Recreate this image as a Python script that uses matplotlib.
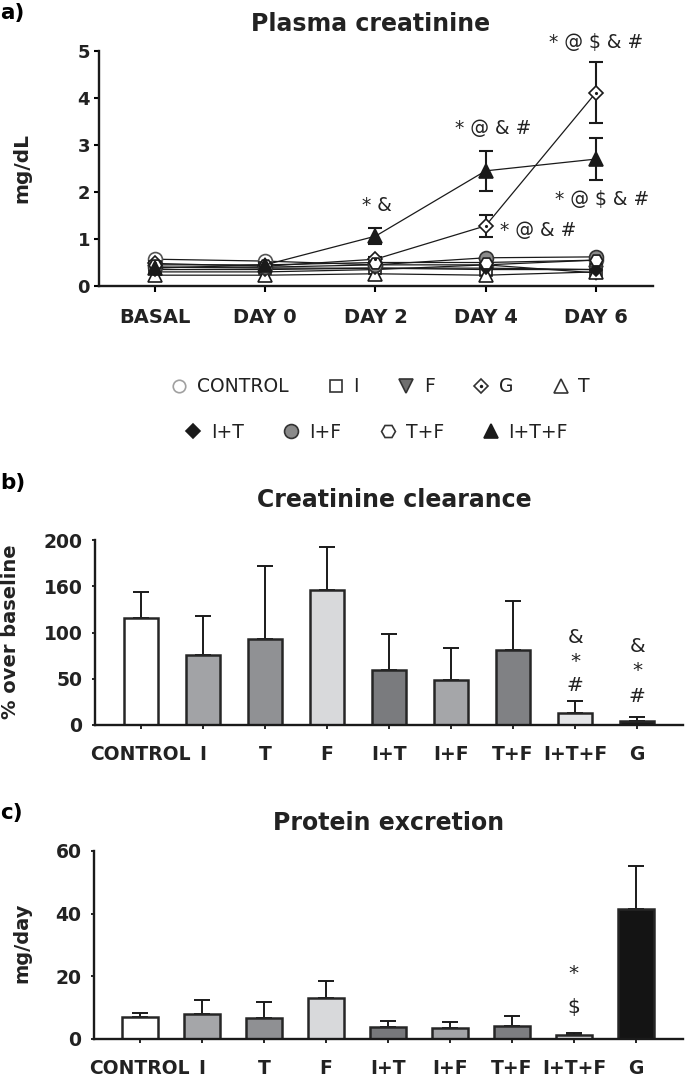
import numpy as np
import matplotlib
matplotlib.use('Agg')
import matplotlib.pyplot as plt
from matplotlib.lines import Line2D
from matplotlib.legend_handler import HandlerTuple

plt.rcParams['font.family'] = ['DejaVu Sans']

# ---- panel a data ----
days = ['BASAL', 'DAY 0', 'DAY 2', 'DAY 4', 'DAY 6']
cr_control = [0.57, 0.53, 0.45, 0.45, 0.55]
cr_i = [0.40, 0.38, 0.38, 0.35, 0.35]
cr_f = [0.30, 0.30, 0.35, 0.45, 0.28]
cr_g = [0.48, 0.42, 0.57, 1.28, 4.11]
cr_t = [0.23, 0.23, 0.26, 0.23, 0.30]
cr_it = [0.35, 0.35, 0.38, 0.38, 0.35]
cr_if = [0.40, 0.40, 0.45, 0.60, 0.62]
cr_tf = [0.45, 0.45, 0.50, 0.50, 0.55]
cr_itf = [0.38, 0.45, 1.06, 2.45, 2.70]
cr_g_err = [0.05, 0.05, 0.05, 0.24, 0.65]
cr_itf_err = [0.05, 0.05, 0.17, 0.42, 0.45]

# ---- panels b, c data ----
groups = ['CONTROL', 'I', 'T', 'F', 'I+T', 'I+F', 'T+F', 'I+T+F', 'G']
clear_mean = [116, 76, 92.6, 146, 59, 48.6, 81.4, 12.6, 4.7]
clear_sd = [28, 42, 79, 46, 39, 34.4, 52.6, 13.4, 4.3]
prot_mean = [6.9, 8.1, 6.6, 13.0, 3.8, 3.5, 4.2, 1.3, 41.5]
prot_sd = [1.4, 4.4, 5.3, 5.6, 2.1, 1.8, 3.1, 0.7, 13.7]

colors_b = ['#ffffff', '#a2a3a6', '#909194', '#d8d9db', '#7a7b7e',
            '#a5a6a9', '#808184', '#e4e5e7', '#1a1a1a']
colors_c = ['#ffffff', '#a5a6a9', '#8f9093', '#d8d9db', '#77787b',
            '#a3a4a7', '#7d7e81', '#e5e5e7', '#141414']

W, H = 685, 1076
fig = plt.figure(figsize=(W / 100, H / 100), dpi=100)
dark = '#1a1a1a'


def px_axes(left, right, top, bottom):
    return fig.add_axes([left / W, 1 - bottom / H, (right - left) / W, (bottom - top) / H])


def style(ax):
    for s in ['top', 'right']:
        ax.spines[s].set_visible(False)
    for s in ['left', 'bottom']:
        ax.spines[s].set_linewidth(1.7)
        ax.spines[s].set_color(dark)
    for lab in ax.get_xticklabels() + ax.get_yticklabels():
        lab.set_fontweight('bold')
        lab.set_color('#222222')


def put(x, y, s, **kw):
    # place text using reference pixel coordinates
    fig.text(x / W, 1 - y / H, s, ha='center', va='center', **kw)


# ================= panel a =================
ax = px_axes(99, 653, 51, 286)
x = np.arange(len(days))
series = [
    ('CONTROL', cr_control, None, dict(marker='o', mfc='white', mec='#555555', ms=10)),
    ('I', cr_i, None, dict(marker='s', mfc='white', mec=dark, ms=8.5)),
    ('F', cr_f, None, dict(marker='v', mfc='#6f6f6f', mec='#333333', ms=10)),
    ('G', cr_g, cr_g_err, dict(marker='D', mfc='white', mec=dark, ms=7.5)),
    ('T', cr_t, None, dict(marker='^', mfc='white', mec=dark, ms=10)),
    ('I+T', cr_it, None, dict(marker='D', mfc=dark, mec=dark, ms=6.5)),
    ('I+F', cr_if, None, dict(marker='o', mfc='#8a8a8a', mec='#333333', ms=10)),
    ('T+F', cr_tf, None, dict(marker='H', mfc='white', mec=dark, ms=9)),
    ('I+T+F', cr_itf, cr_itf_err, dict(marker='^', mfc=dark, mec=dark, ms=10)),
]
for name, vals, err, st in series:
    if err is not None:
        ax.errorbar(x, vals, yerr=err, fmt='none', ecolor=dark, elinewidth=1.5,
                    capsize=5, capthick=1.5, zorder=2)
    ax.plot(x, vals, color=dark, lw=0.9, mew=1.2, zorder=3, **st)
    if name == 'G':
        ax.plot(x, vals, ls='none', marker='.', color=dark, ms=2.5, zorder=4)

ax.set_xlim(-0.51, 4.52)
ax.set_ylim(0, 5)
ax.set_xticks(x)
ax.set_xticklabels(days, fontsize=14)
ax.set_yticks(range(6))
ax.tick_params(axis='y', labelsize=13, length=3.5, width=1.5, pad=3)
ax.tick_params(axis='x', length=4, width=1.5, pad=12)
style(ax)

ann = dict(ha='center', va='center', fontsize=13.5, parse_math=False, clip_on=False,
           color='#222222')
ax.text(2.01, 1.72, '* &', **ann)
ax.text(3.07, 3.36, '* @ & #', **ann)
ax.text(3.48, 1.19, '* @ & #', **ann)
ax.text(4.00, 5.19, '* @ $ & #', **ann)
ax.text(4.06, 1.85, '* @ $ & #', **ann)

fig.text(0, 1 - 13 / H, 'a)', fontsize=15.5, fontweight='bold', va='center', ha='left')
put(371, 24, 'Plasma creatinine', fontsize=17, fontweight='bold', color='#222222')
put(22, 168, 'mg/dL', fontsize=14.5, fontweight='bold', rotation=90, color='#222222')

# legend
names1 = ['CONTROL', 'I', 'F', 'G', 'T']
names2 = ['I+T', 'I+F', 'T+F', 'I+T+F']
leg_marks = {
    'CONTROL': [dict(marker='o', mfc='white', mec='#a0a0a0', ms=9)],
    'I': [dict(marker='s', mfc='white', mec='#333333', ms=9)],
    'F': [dict(marker='v', mfc='#6f6f6f', mec='#333333', ms=10)],
    'G': [dict(marker='D', mfc='white', mec='#333333', ms=7),
          dict(marker='.', mfc=dark, mec=dark, ms=2.5)],
    'T': [dict(marker='^', mfc='white', mec='#333333', ms=10)],
    'I+T': [dict(marker='D', mfc=dark, mec=dark, ms=7)],
    'I+F': [dict(marker='o', mfc='#8a8a8a', mec='#333333', ms=10)],
    'T+F': [dict(marker='H', mfc='white', mec='#333333', ms=10)],
    'I+T+F': [dict(marker='^', mfc=dark, mec=dark, ms=10)],
}


def leg_handle(name):
    parts = [Line2D([], [], ls='none', mew=1.2, **m) for m in leg_marks[name]]
    return tuple(parts) if len(parts) > 1 else parts[0]


leg_kw = dict(loc='center', frameon=False, fontsize=13.5, handlelength=1.0,
              handletextpad=0.45, columnspacing=2.0, borderpad=0,
              labelcolor='#222222',
              handler_map={tuple: HandlerTuple(ndivide=1, pad=0)})
fig.legend([leg_handle(n) for n in names1], names1, ncol=5,
           bbox_to_anchor=(380 / W, 1 - 387 / H), **leg_kw)
fig.legend([leg_handle(n) for n in names2], names2, ncol=4,
           bbox_to_anchor=(376 / W, 1 - 432 / H), **leg_kw)

# ================= panel b =================
bx = np.arange(len(groups))
ax = px_axes(95, 683, 540, 725)
ax.errorbar(bx, clear_mean, yerr=[np.zeros(len(groups)), clear_sd], fmt='none',
            ecolor=dark, elinewidth=1.4, capsize=5.5, capthick=1.4, zorder=1)
ax.bar(bx, clear_mean, width=0.56, color=colors_b, edgecolor='#262626', lw=1.8, zorder=2)
ax.set_xlim(-0.74, 8.74)
ax.set_ylim(0, 200)
ax.set_xticks(bx)
ax.set_xticklabels(groups, fontsize=13.5)
ax.set_yticks([0, 50, 100, 150, 200])
ax.set_yticklabels(['0', '50', '100', '160', '200'])
ax.tick_params(axis='y', labelsize=13.5, length=2, width=1.2, pad=7)
ax.tick_params(axis='x', length=3, width=1.2, pad=11.5)
style(ax)

bann = dict(ha='center', va='center', fontsize=14.5, parse_math=False, color='#222222')
for sym, yv in zip(['&', '*', '#'], [95, 69, 43]):
    ax.text(7, yv, sym, **bann)
for sym, yv in zip(['&', '*', '#'], [85, 59, 31]):
    ax.text(8, yv, sym, **bann)

fig.text(0, 1 - 483 / H, 'b)', fontsize=15.5, fontweight='bold', va='center', ha='left')
put(394, 500, 'Creatinine clearance', fontsize=17, fontweight='bold', color='#222222')
put(11, 632, '% over baseline', fontsize=14, fontweight='bold', rotation=90, color='#222222')

# ================= panel c =================
ax = px_axes(94, 683, 851, 1039)
ax.errorbar(bx, prot_mean, yerr=[np.zeros(len(groups)), prot_sd], fmt='none',
            ecolor=dark, elinewidth=1.4, capsize=5.5, capthick=1.4, zorder=1)
ax.bar(bx, prot_mean, width=0.58, color=colors_c, edgecolor='#262626', lw=1.8, zorder=2)
ax.set_xlim(-0.74, 8.76)
ax.set_ylim(0, 60)
ax.set_xticks(bx)
ax.set_xticklabels(groups, fontsize=13.5)
ax.set_yticks([0, 20, 40, 60])
ax.tick_params(axis='y', labelsize=13.5, length=2, width=1.2, pad=7)
ax.tick_params(axis='x', length=3, width=1.2, pad=11.5)
style(ax)
ax.text(7, 21, '*', **bann)
ax.text(7, 9.9, '$', **bann)

fig.text(0, 1 - 813 / H, 'c)', fontsize=15.5, fontweight='bold', va='center', ha='left')
put(389, 823, 'Protein excretion', fontsize=17, fontweight='bold', color='#222222')
put(22, 943, 'mg/day', fontsize=14, fontweight='bold', rotation=90, color='#222222')

fig.savefig('out.png', dpi=100)
